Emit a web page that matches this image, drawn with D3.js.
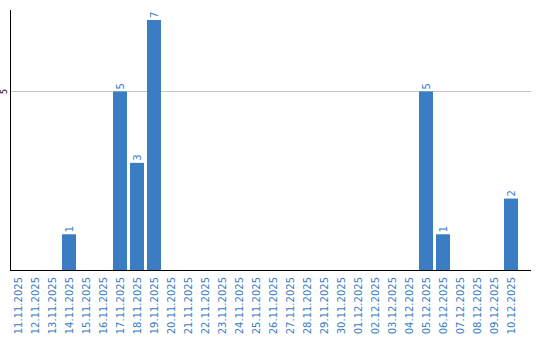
<!DOCTYPE html>
<html>
<head>
<meta charset="utf-8">
<script src="https://cdn.jsdelivr.net/npm/d3@7"></script>
<style>
  body { margin: 0; background: #fff; }
  text { font-family: "DejaVu Sans", Verdana, sans-serif; }
</style>
</head>
<body>
<svg id="chart" width="540" height="340"></svg>
<script>
// dati del grafico
const dates = [
  "11.11.2025", "12.11.2025", "13.11.2025", "14.11.2025", "15.11.2025",
  "16.11.2025", "17.11.2025", "18.11.2025", "19.11.2025", "20.11.2025",
  "21.11.2025", "22.11.2025", "23.11.2025", "24.11.2025", "25.11.2025",
  "26.11.2025", "27.11.2025", "28.11.2025", "29.11.2025", "30.11.2025",
  "01.12.2025", "02.12.2025", "03.12.2025", "04.12.2025", "05.12.2025",
  "06.12.2025", "07.12.2025", "08.12.2025", "09.12.2025", "10.12.2025"
];
const counts = [
  0, 0, 0, 1, 0, 0, 5, 3, 7, 0,
  0, 0, 0, 0, 0, 0, 0, 0, 0, 0,
  0, 0, 0, 0, 5, 1, 0, 0, 0, 2
];
const yTicks = [5];

const blue = "#3a7dc2";
const svg = d3.select("#chart");

const x = d3.scaleBand()
  .domain(dates)
  .range([11, 518])
  .paddingInner(3 / 17)
  .paddingOuter(0);

const y = d3.scaleLinear()
  .domain([0, 7.28])
  .range([270, 10]);

// griglia
svg.selectAll(".grid")
  .data(yTicks)
  .enter()
  .append("line")
  .attr("x1", 10)
  .attr("x2", 531)
  .attr("y1", (d) => Math.round(y(d)) + 0.5)
  .attr("y2", (d) => Math.round(y(d)) + 0.5)
  .style("stroke", "#c8c8c8");

// etichette asse y
svg.selectAll(".ylab")
  .data(yTicks)
  .enter()
  .append("text")
  .attr("transform", (d) => `translate(7,${y(d)}) rotate(-90)`)
  .attr("text-anchor", "middle")
  .style("font-size", "8px")
  .style("fill", "#000")
  .text((d) => d);

// barre
svg.selectAll(".bar")
  .data(dates)
  .enter()
  .append("rect")
  .attr("x", (d) => x(d))
  .attr("width", x.bandwidth())
  .attr("y", (d, i) => y(counts[i]))
  .attr("height", (d, i) => y(0) - y(counts[i]))
  .style("fill", blue);

// valori sopra le barre
svg.selectAll(".val")
  .data(dates.filter((d, i) => counts[i] > 0))
  .enter()
  .append("text")
  .attr("transform", (d) => {
    const v = counts[dates.indexOf(d)];
    return `translate(${x(d) + x.bandwidth() / 2 + 3.5},${y(v) - 2}) rotate(-90)`;
  })
  .style("font-size", "10px")
  .style("fill", blue)
  .text((d) => counts[dates.indexOf(d)]);

// assi
svg.append("line")
  .attr("x1", 10.5).attr("x2", 10.5)
  .attr("y1", 10).attr("y2", 270)
  .style("stroke", "#000");
svg.append("line")
  .attr("x1", 10).attr("x2", 531)
  .attr("y1", 270.5).attr("y2", 270.5)
  .style("stroke", "#000");

// etichette date
svg.selectAll(".xlab")
  .data(dates)
  .enter()
  .append("text")
  .attr("transform", (d) => `translate(${x(d) + x.bandwidth() / 2 + 3.5},277) rotate(-90)`)
  .attr("text-anchor", "end")
  .style("font-size", "10px")
  .style("fill", blue)
  .text((d) => d);
</script>
</body>
</html>
